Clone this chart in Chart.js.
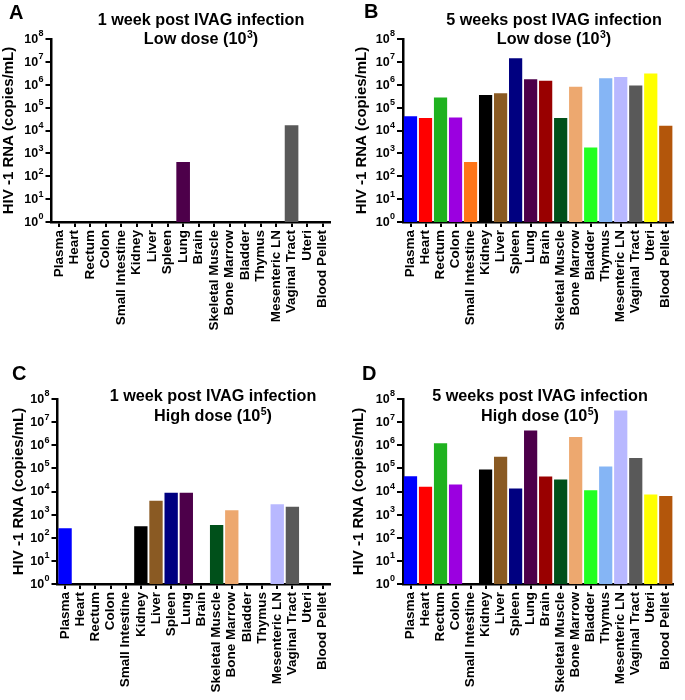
<!DOCTYPE html>
<html>
<head>
<meta charset="utf-8">
<script src="https://cdn.jsdelivr.net/npm/chart.js@4/dist/chart.umd.min.js"></script>
<style>
  html, body { margin: 0; padding: 0; background: #ffffff; }
  body { width: 685px; height: 700px; position: relative; overflow: hidden; }
  .panel { position: absolute; }
</style>
</head>
<body>
<div class="panel" style="left:0px;top:0px;width:342px;height:350px;"><canvas id="cA" width="342" height="350"></canvas></div>
<div class="panel" style="left:342px;top:0px;width:343px;height:350px;"><canvas id="cB" width="343" height="350"></canvas></div>
<div class="panel" style="left:0px;top:350px;width:342px;height:350px;"><canvas id="cC" width="342" height="350"></canvas></div>
<div class="panel" style="left:342px;top:350px;width:343px;height:350px;"><canvas id="cD" width="343" height="350"></canvas></div>
<script>
// ---------------- DATA ----------------
const categories = ['Plasma', 'Heart', 'Rectum', 'Colon', 'Small Intestine', 'Kidney', 'Liver', 'Spleen', 'Lung', 'Brain',
  'Skeletal Muscle', 'Bone Marrow', 'Bladder', 'Thymus', 'Mesenteric LN', 'Vaginal Tract', 'Uteri', 'Blood Pellet'];

const barColors = ['#0000ff', '#ff0000', '#1fb21f', '#9b00e0', '#ff7518', '#000000', '#8a5a23', '#000080', '#4d004a', '#990000',
  '#00501a', '#eda86f', '#22ff22', '#85b5f5', '#b8b8ff', '#595959', '#ffff00', '#b3560b'];

// null = not detected (no bar)
const week1Low  = [null, null, null, null, null, null, null, null, 420, null, null, null, null, null, null, 17000, null, null];
const week5Low  = [42000, 35000, 280000, 37000, 420, 360000, 430000, 14500000, 1750000, 1480000, 35000, 810000, 1800, 1900000, 2200000, 930000, 3100000, 16000];
const week1High = [257, null, null, null, null, 315, 4000, 8900, 8900, null, 355, 1550, null, null, 2800, 2200, null, null];
const week5High = [46000, 16000, 1230000, 20000, null, 89000, 320000, 13400, 4300000, 44000, 33000, 2300000, 11400, 120000, 32000000, 280000, 7400, 6400];

const yTickValues = [1, 10, 100, 1000, 10000, 100000, 1000000, 10000000, 100000000];
const yTickBase = '10';
const yTickExponents = ['0', '1', '2', '3', '4', '5', '6', '7', '8'];
const yAxisTitle = 'HIV -1 RNA (copies/mL)';

const panelLetters = ['A', 'B', 'C', 'D'];
const panelTitles = [
  ['1 week post IVAG infection', 'Low dose (10', '3', ')'],
  ['5 weeks post IVAG infection', 'Low dose (10', '3', ')'],
  ['1 week post IVAG infection', 'High dose (10', '5', ')'],
  ['5 weeks post IVAG infection', 'High dose (10', '5', ')']
];
// --------------------------------------

const FONT = "'Liberation Sans', Arial, Helvetica, sans-serif";

// draws text pieces: panel letter, two-line title (with superscript), y-axis title, y tick labels
const textPlugin = {
  id: 'panelText',
  afterDraw(chart, args, opts) {
    const ctx = chart.ctx;
    const ca = chart.chartArea;
    ctx.save();
    ctx.fillStyle = '#000';
    ctx.textBaseline = 'middle';

    // panel letter
    ctx.font = 'bold 20px ' + FONT;
    ctx.textAlign = 'left';
    ctx.fillText(opts.letter, opts.letterX, opts.letterY);

    // title line 1
    const tf = 'bold 16.2px ' + FONT;
    const sf = 'bold 10.5px ' + FONT;
    ctx.font = tf;
    ctx.textAlign = 'center';
    ctx.fillText(opts.title[0], opts.titleX, opts.titleY1);

    // title line 2 with superscript
    ctx.textAlign = 'left';
    ctx.font = tf; const w1 = ctx.measureText(opts.title[1]).width;
    ctx.font = sf; const w2 = ctx.measureText(opts.title[2]).width + 0.5;
    ctx.font = tf; const w3 = ctx.measureText(opts.title[3]).width;
    let x = opts.titleX - (w1 + w2 + w3) / 2;
    ctx.font = tf; ctx.fillText(opts.title[1], x, opts.titleY2); x += w1;
    ctx.font = sf; ctx.fillText(opts.title[2], x + 0.5, opts.titleY2 - 5); x += w2;
    ctx.font = tf; ctx.fillText(opts.title[3], x, opts.titleY2);

    // y-axis title
    ctx.save();
    ctx.translate(opts.yTitleX, (ca.top + ca.bottom) / 2);
    ctx.rotate(-Math.PI / 2);
    ctx.textAlign = 'center';
    ctx.font = 'bold 15px ' + FONT;
    ctx.fillText(yAxisTitle, 0, 0);
    ctx.restore();

    // y tick labels 10^n
    const ys = chart.scales.y;
    const bf = 'bold 12.5px ' + FONT;
    const ef = 'bold 9px ' + FONT;
    yTickValues.forEach((v, i) => {
      const py = ys.getPixelForValue(v);
      const right = ys.right - 8;
      ctx.font = ef; const ew = ctx.measureText(yTickExponents[i]).width;
      ctx.textAlign = 'left';
      ctx.fillText(yTickExponents[i], right - ew, py - 5);
      ctx.font = bf;
      ctx.textAlign = 'right';
      ctx.fillText(yTickBase, right - ew - 0.3, py + 0.5);
    });
    ctx.restore();
  }
};

function makeChart(id, values, geo, idx) {
  const ctx = document.getElementById(id);
  return new Chart(ctx, {
    type: 'bar',
    data: {
      labels: categories,
      datasets: [{
        data: values,
        backgroundColor: barColors,
        borderWidth: 0,
        barPercentage: 0.88,
        categoryPercentage: 1.0
      }]
    },
    options: {
      responsive: false,
      animation: false,
      devicePixelRatio: 1,
      layout: { padding: { left: 0, top: geo.top, right: geo.padRight, bottom: 0 } },
      plugins: {
        legend: { display: false },
        tooltip: { enabled: false },
        title: { display: false },
        panelText: {
          letter: panelLetters[idx], letterX: geo.letterX, letterY: geo.letterY,
          title: panelTitles[idx], titleX: geo.titleX, titleY1: geo.titleY1, titleY2: geo.titleY2,
          yTitleX: geo.yTitleX
        }
      },
      scales: {
        x: {
          type: 'category',
          offset: true,
          afterFit(scale) { scale.height = geo.xHeight; },
          grid: {
            display: true, drawOnChartArea: false, drawTicks: true, offset: false,
            tickLength: 5, lineWidth: 2, color: '#000'
          },
          border: { display: true, width: 2.5, color: '#000' },
          ticks: {
            autoSkip: false, maxRotation: 90, minRotation: 90, padding: 3,
            color: '#000', font: { family: FONT, size: 13.5, weight: 'bold' }
          }
        },
        y: {
          type: 'logarithmic',
          min: 1, max: 1e8,
          afterFit(scale) { scale.width = geo.left; },
          afterBuildTicks(scale) { scale.ticks = yTickValues.map(v => ({ value: v })); },
          grid: {
            display: true, drawOnChartArea: false, drawTicks: true,
            tickLength: 6, lineWidth: 2, color: '#000'
          },
          border: { display: true, width: 2.5, color: '#000' },
          ticks: { display: false },
          title: { display: false }
        }
      }
    },
    plugins: [textPlugin]
  });
}

makeChart('cA', week1Low, { left: 51.5, padRight: 9.5, top: 39, xHeight: 128, letterX: 9, letterY: 13,
  titleX: 201, titleY1: 21, titleY2: 40, yTitleX: 9 }, 0);
makeChart('cB', week5Low, { left: 61, padRight: 1, top: 39, xHeight: 128, letterX: 22, letterY: 12,
  titleX: 212, titleY1: 21, titleY2: 40, yTitleX: 20 }, 1);
makeChart('cC', week1High, { left: 57.5, padRight: 3.5, top: 49, xHeight: 116, letterX: 12, letterY: 24,
  titleX: 213, titleY1: 47, titleY2: 67, yTitleX: 18.5 }, 2);
makeChart('cD', week5High, { left: 61, padRight: 1, top: 49, xHeight: 116, letterX: 20, letterY: 24,
  titleX: 198, titleY1: 47, titleY2: 67, yTitleX: 16.5 }, 3);
</script>
</body>
</html>
